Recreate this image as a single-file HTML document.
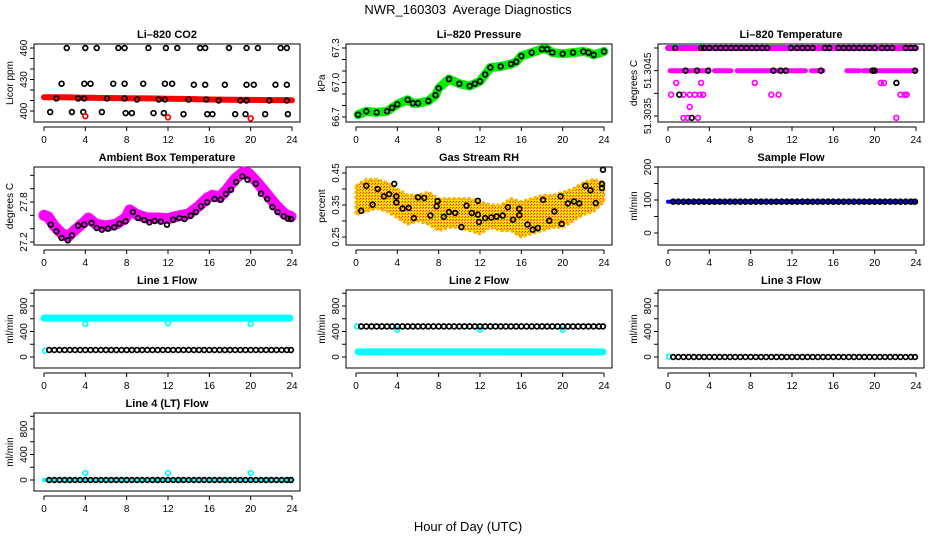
<!DOCTYPE html>
<html><head><meta charset="utf-8"><title>NWR_160303 Average Diagnostics</title>
<style>
html,body{margin:0;padding:0;background:#fff;}
svg{display:block;font-family:"Liberation Sans",Arial,sans-serif;}
</style></head>
<body>
<svg id="chart" width="936" height="540" viewBox="0 0 936 540" xmlns="http://www.w3.org/2000/svg">
<defs>
<pattern id="rhdots" width="3" height="3" patternUnits="userSpaceOnUse">
<rect width="3" height="3" fill="#ffd000"/>
<rect x="0" y="0" width="1" height="1" fill="#ff2000"/>
<rect x="2" y="1" width="1" height="1" fill="#ff6000"/>
<rect x="1" y="2" width="1" height="1" fill="#ffff00"/>
</pattern>
</defs>
<text x="468" y="14" font-size="13" text-anchor="middle">NWR_160303&#160; Average Diagnostics</text>
<text x="468" y="531" font-size="13" text-anchor="middle">Hour of Day (UTC)</text>
</svg>
<script>
// ---------- data ----------
const xTicks = [0,4,8,12,16,20,24];
const halfHours = [0.5,1,1.5,2,2.5,3,3.5,4,4.5,5,5.5,6,6.5,7,7.5,8,8.5,9,9.5,10,10.5,11,11.5,12,12.5,13,13.5,14,14.5,15,15.5,16,16.5,17,17.5,18,18.5,19,19.5,20,20.5,21,21.5,22,22.5,23,23.5,23.9];

// CO2
const co2Hours = [2.2,4.0,5.1,7.2,7.8,10.1,11.8,12.9,15.1,15.6,17.9,19.6,20.7,22.9,23.5,
 1.7,3.9,4.5,6.7,7.8,9.6,11.7,12.4,14.5,15.6,17.5,19.6,20.3,22.4,23.5,
 1.2,3.3,3.9,6.1,7.8,9.0,11.1,11.7,14.0,15.7,16.9,19.0,19.6,21.8,23.5,
 0.6,2.7,3.8,5.6,7.9,8.5,10.6,11.6,13.5,15.8,16.3,18.5,19.5,21.4,23.6];
const co2Values = [460,460,460,460,460,460,460,460,460,460,460,460,460,460,460,
 426,426,426,426,426,426,426,426,425,425,425,425,425,425,425,
 412,412,412,412,412,411,411,411,411,411,410,410,410,410,410,
 399,399,399,399,398,398,398,398,397,397,397,397,397,397,397];
const co2BandHours = [0,2,4,6,8,10,12,14,16,18,20,22,24];
const co2Band = [413,413,412.6,412.4,412.2,412,411.6,411.4,411,410.8,410.6,410.4,410.2];
const co2RedHours = [4,12,20];
const co2RedValues = [395,394,393];

// Pressure
const presHours = [0.2,1,2,3,3.5,4,5,5.5,6,7,7.7,8,9,10,11,11.5,12,12.5,13,14,15,15.5,16,17,18,18.5,19,20,21,22,22.5,23,24];
const presValues = [66.72,66.75,66.74,66.75,66.78,66.81,66.85,66.82,66.82,66.84,66.89,66.95,67.03,66.99,66.97,66.99,67.01,67.07,67.13,67.14,67.16,67.18,67.23,67.26,67.29,67.29,67.26,67.25,67.26,67.27,67.26,67.24,67.27];

// Li-820 temperature
const tempTopStart = [0];
const tempTopEnd = [24];
const tempTopValue = 51.3050;
const tempMidStart = [0.2,4.5,6.7,13.9,17.3,18.9];
const tempMidEnd = [3.9,6.1,13.3,15.0,18.5,24];
const tempMidValue = 51.3045;
const tempScatterHours = [0.8,3.2,8.4,20.6,20.9,0.3,1.5,2.1,2.6,3.1,3.4,10.0,10.7,22.5,22.9,23.1,2.1,1.5,1.9,2.9,22.1];
const tempScatterValues = [51.30423,51.30423,51.30423,51.30423,51.30423,51.30397,51.30397,51.30397,51.30397,51.30397,51.30397,51.30397,51.30397,51.30397,51.30397,51.30397,51.30370,51.30346,51.30346,51.30346,51.30346];
const tempBlackHours = [0.7,3.2,3.5,4.0,4.6,5.1,5.6,6.1,6.6,7.1,7.6,8.1,8.6,9.1,9.6,11.9,12.5,13.0,13.5,14.0,15.2,15.6,16.5,17.0,17.5,18.0,18.5,19.0,19.5,20.0,20.7,21.2,21.7,23.0,23.5,23.9,
 1.7,2.8,3.9,10.2,10.9,11.4,14.8,19.8,20.0,23.9, 22.1,1.1,2.3];
const tempBlackValues = [51.3050,51.3050,51.3050,51.3050,51.3050,51.3050,51.3050,51.3050,51.3050,51.3050,51.3050,51.3050,51.3050,51.3050,51.3050,51.3050,51.3050,51.3050,51.3050,51.3050,51.3050,51.3050,51.3050,51.3050,51.3050,51.3050,51.3050,51.3050,51.3050,51.3050,51.3050,51.3050,51.3050,51.3050,51.3050,51.3050,
 51.3045,51.3045,51.3045,51.3045,51.3045,51.3045,51.3045,51.3045,51.3045,51.3045, 51.30423,51.30397,51.30346];

// Ambient box temperature
const ambHours = [0.65,1.2,1.7,2.3,2.7,3.3,3.9,4.6,5.1,5.6,6.2,6.8,7.3,7.9,8.6,9.1,9.7,10.2,10.7,11.3,11.9,12.5,13.1,13.6,14.2,14.7,15.2,15.8,16.5,17.1,17.6,18.1,18.6,19.2,19.7,20.5,21.0,21.6,22.1,22.6,23.2,23.6,23.9];
const ambValues = [27.46,27.36,27.26,27.225,27.30,27.445,27.46,27.485,27.41,27.385,27.40,27.42,27.475,27.51,27.65,27.56,27.53,27.495,27.515,27.505,27.46,27.535,27.56,27.545,27.595,27.65,27.735,27.795,27.845,27.835,27.92,27.985,28.10,28.185,28.135,28.075,27.925,27.845,27.725,27.65,27.585,27.55,27.545];
const ambBandHours = [0,0.4,1.0,1.7,2.3,3.0,3.9,4.3,5.0,6.0,7.0,7.9,8.3,9.0,10.0,11.0,12.0,13.0,14.0,15.0,15.8,16.3,17.0,17.6,18.5,19.3,19.8,20.5,21.5,22.5,23.3,23.9];
const ambBand = [27.60,27.58,27.44,27.33,27.28,27.38,27.50,27.56,27.47,27.44,27.47,27.56,27.68,27.61,27.56,27.56,27.55,27.59,27.62,27.74,27.86,27.90,27.87,27.97,28.15,28.25,28.23,28.12,27.93,27.74,27.62,27.58];

// Gas stream RH
const rhEnvHours = [0,1,2,3,4,5,6,7,8,9,10,11,12,13,14,15,16,17,18,19,20,21,22,23,24];
const rhUpper = [0.41,0.43,0.43,0.42,0.40,0.38,0.38,0.39,0.37,0.37,0.37,0.37,0.36,0.35,0.35,0.37,0.36,0.37,0.38,0.38,0.39,0.40,0.42,0.43,0.42];
const rhLower = [0.32,0.33,0.34,0.33,0.31,0.29,0.30,0.29,0.27,0.28,0.28,0.27,0.26,0.28,0.27,0.27,0.25,0.26,0.27,0.28,0.28,0.30,0.32,0.33,0.36];
const rhHours = [0.5,1.0,1.6,2.1,2.7,3.2,3.7,3.9,3.9,4.5,5.1,5.6,6.0,6.6,7.2,7.8,7.9,8.5,9.0,9.6,10.2,10.7,11.2,11.8,11.8,11.9,12.5,13.1,13.6,14.2,14.7,15.2,15.8,15.8,16.6,17.1,17.6,18.1,18.7,19.2,19.8,19.9,20.5,21.1,21.6,22.2,22.7,23.2,23.8,23.9,23.8];
const rhValues = [0.332,0.410,0.351,0.400,0.377,0.384,0.416,0.377,0.358,0.339,0.341,0.309,0.374,0.372,0.317,0.346,0.362,0.313,0.328,0.325,0.281,0.348,0.325,0.320,0.363,0.297,0.309,0.311,0.314,0.317,0.343,0.304,0.318,0.338,0.289,0.273,0.278,0.366,0.301,0.330,0.377,0.291,0.355,0.361,0.355,0.410,0.396,0.356,0.416,0.460,0.403];

// Sample flow
const sampleBandHours = [0,24];
const sampleBand = [95,95];
const sampleBlack = [95,95,95,95,95,95,95,95,95,95,95,95,95,95,95,95,95,95,95,95,95,95,95,95,95,95,95,95,95,95,95,95,95,95,95,95,95,95,95,95,95,95,95,95,95,95,95,95];

// Line flows
const line1BandHours = [0,23.8];
const line1Band = [610,610];
const line1DipHours = [0.1,4,12,20];
const line1DipValues = [100,520,530,520];
const line1Black = [110,110,110,110,110,110,110,110,110,110,110,110,110,110,110,110,110,110,110,110,110,110,110,110,110,110,110,110,110,110,110,110,110,110,110,110,110,110,110,110,110,110,110,110,110,110,110,110];
const line2BandHours = [0.2,23.9];
const line2Band = [80,80];
const line2DipHours = [0.1,4,12,20];
const line2DipValues = [480,430,430,430];
const line2Black = [480,480,480,480,480,480,480,480,480,480,480,480,480,480,480,480,480,480,480,480,480,480,480,480,480,480,480,480,480,480,480,480,480,480,480,480,480,480,480,480,480,480,480,480,480,480,480,480];
const line3DipHours = [0.1];
const line3DipValues = [5];
const line3Black = [0,0,0,0,0,0,0,0,0,0,0,0,0,0,0,0,0,0,0,0,0,0,0,0,0,0,0,0,0,0,0,0,0,0,0,0,0,0,0,0,0,0,0,0,0,0,0,0];
const line4BandHours = [0,23.9];
const line4Band = [0,0];
const line4DipHours = [4,12,20];
const line4DipValues = [110,110,110];
const line4Black = [0,0,0,0,0,0,0,0,0,0,0,0,0,0,0,0,0,0,0,0,0,0,0,0,0,0,0,0,0,0,0,0,0,0,0,0,0,0,0,0,0,0,0,0,0,0,0,0];

// ---------- drawing ----------
const NS = 'http://www.w3.org/2000/svg';
const svg = document.getElementById('chart');
function el(tag, attrs, parent) {
  const e = document.createElementNS(NS, tag);
  for (const k in attrs) e.setAttribute(k, attrs[k]);
  (parent || svg).appendChild(e);
  return e;
}

function panel(c, r, name, title, yTitle, ref, yTicks, yLabels, fmt) {
  const g = el('g', {});
  
  
  const bx = 34 + 312 * c, by = 44 + 123 * r, bw = 266, bh = 78;
  const x = t => 44 + 312 * c + t * 248 / 24;
  const y = v => by + ref[1] + (v - ref[0]) * (ref[3] - ref[1]) / (ref[2] - ref[0]);
  const box = el('rect', {x: bx, y: by, width: bw, height: bh, fill: 'none', stroke: '#000', 'stroke-width': 1}, g);
  
  
  const t = el('text', {x: bx + bw / 2, y: by - 6, 'font-size': 11, 'font-weight': 'bold', 'text-anchor': 'middle'}, g);
  t.textContent = title;
  
  
  const ay = by + bh + 5;
  const xa = el('g', {}, g);
  
  
  el('line', {x1: x(xTicks[0]), x2: x(xTicks[xTicks.length - 1]), y1: ay, y2: ay, stroke: '#000'}, xa);
  xTicks.forEach(v => {
    el('line', {x1: x(v), x2: x(v), y1: ay, y2: ay + 4, stroke: '#000'}, xa);
    const l = el('text', {x: x(v), y: ay + 16, 'font-size': 10, 'text-anchor': 'middle'}, xa);
    l.textContent = v;
    
    
  });
  const ya = el('g', {}, g);
  
  
  el('line', {x1: bx, x2: bx, y1: y(yTicks[0]), y2: y(yTicks[yTicks.length - 1]), stroke: '#000'}, ya);
  yTicks.forEach(v => el('line', {x1: bx - 4, x2: bx, y1: y(v), y2: y(v), stroke: '#000'}, ya));
  yLabels.forEach(v => {
    const yy = y(v);
    const l = el('text', {x: bx - 7, y: yy, 'font-size': 10, 'text-anchor': 'middle', transform: 'rotate(-90 ' + (bx - 7) + ' ' + yy + ')'}, ya);
    l.textContent = fmt(v);
    
    
  });
  const yt = el('text', {x: bx - 21, y: by + bh / 2, 'font-size': 10, 'text-anchor': 'middle', transform: 'rotate(-90 ' + (bx - 21) + ' ' + (by + bh / 2) + ')'}, g);
  yt.textContent = yTitle;
  
  
  const marks = el('g', {}, g);
  
  
  return {g: marks, x, y};
}

function band(p, hours, vals, color, w, name) {
  const pts = hours.map((h, i) => p.x(h).toFixed(1) + ',' + p.y(vals[i]).toFixed(1)).join(' ');
  const l = el('polyline', {points: pts, fill: 'none', stroke: color, 'stroke-width': w, 'stroke-linejoin': 'round', 'stroke-linecap': 'round'}, p.g);
  
  
}
function circles(p, hours, vals, color, name) {
  hours.forEach((h, i) => {
    const c = el('circle', {cx: p.x(h), cy: p.y(vals[i]), r: 2.4, fill: 'none', stroke: color, 'stroke-width': 1.7}, p.g);
    
    
  });
}
const f0 = v => String(v);

const p1 = panel(0, 0, 'co2', 'Li\u2013820 CO2', 'Licor ppm', [400, 67, 460, 4], [400,410,420,430,440,450,460], [400,430,460], f0);
band(p1, co2BandHours, co2Band, '#ff0000', 6, 'co2-band');
circles(p1, co2Hours, co2Values, '#000', 'co2-point');
circles(p1, co2RedHours, co2RedValues, '#ff0000', 'co2-red-point');

const p2 = panel(1, 0, 'pressure', 'Li\u2013820 Pressure', 'kPa', [66.7, 73, 67.3, 4], [66.7,66.8,66.9,67.0,67.1,67.2,67.3], [66.7,67.0,67.3], v => v.toFixed(1));
band(p2, presHours, presValues, '#00ee00', 9, 'pressure-band');
circles(p2, presHours, presValues, '#000', 'pressure-point');

const p3 = panel(2, 0, 'li820-temp', 'Li\u2013820 Temperature', 'degrees C', [51.3035, 72, 51.3050, 4], [51.3035,51.3040,51.3045,51.3050], [51.3035,51.3045], v => v.toFixed(4));
tempTopStart.forEach((s, i) => band(p3, [s, tempTopEnd[i]], [tempTopValue, tempTopValue], '#ff00ff', 6, 'temp-top-band'));
tempMidStart.forEach((s, i) => band(p3, [s, tempMidEnd[i]], [tempMidValue, tempMidValue], '#ff00ff', 5, 'temp-mid-band'));
circles(p3, tempScatterHours, tempScatterValues, '#ff00ff', 'temp-magenta-point');
circles(p3, tempBlackHours, tempBlackValues, '#000', 'temp-point');

const p4 = panel(0, 1, 'ambient-temp', 'Ambient Box Temperature', 'degrees C', [27.2, 75, 27.8, 35], [27.2,27.4,27.6,27.8,28.0,28.2], [27.2,27.8], v => v.toFixed(1));
band(p4, ambBandHours, ambBand, '#ff00ff', 11, 'ambient-band');
circles(p4, ambHours, ambValues, '#000', 'ambient-point');

const p5 = panel(1, 1, 'rh', 'Gas Stream RH', 'percent', [0.25, 70, 0.45, 6], [0.25,0.30,0.35,0.40,0.45], [0.25,0.35,0.45], v => v.toFixed(2));
const up = rhEnvHours.map((h, i) => p5.x(h).toFixed(1) + ',' + p5.y(rhUpper[i]).toFixed(1));
const lo = rhEnvHours.map((h, i) => p5.x(h).toFixed(1) + ',' + p5.y(rhLower[i]).toFixed(1)).reverse();
const cloud = el('polygon', {points: up.concat(lo).join(' '), fill: 'url(#rhdots)', stroke: '#ffb000', 'stroke-width': 3, 'stroke-linejoin': 'round', 'stroke-dasharray': '3 2'}, p5.g);


circles(p5, rhHours, rhValues, '#000', 'rh-point');

const p6 = panel(2, 1, 'sample-flow', 'Sample Flow', 'ml/min', [0, 66, 200, 0], [0,50,100,150,200], [0,100,200], f0);
band(p6, sampleBandHours, sampleBand, '#0000ff', 4, 'sample-band');
circles(p6, halfHours, sampleBlack, '#000', 'sample-point');

const flowTicks = [0,200,400,600,800,1000];
const flowLabels = [0,400,800];
const p7 = panel(0, 2, 'line1-flow', 'Line 1 Flow', 'ml/min', [0, 67, 800, 16], flowTicks, flowLabels, f0);
band(p7, line1BandHours, line1Band, '#00ffff', 7, 'line1-band');
circles(p7, line1DipHours, line1DipValues, '#00ffff', 'line1-cyan-point');
circles(p7, halfHours, line1Black, '#000', 'line1-point');

const p8 = panel(1, 2, 'line2-flow', 'Line 2 Flow', 'ml/min', [0, 67, 800, 16], flowTicks, flowLabels, f0);
band(p8, line2BandHours, line2Band, '#00ffff', 7, 'line2-band');
circles(p8, line2DipHours, line2DipValues, '#00ffff', 'line2-cyan-point');
circles(p8, halfHours, line2Black, '#000', 'line2-point');

const p9 = panel(2, 2, 'line3-flow', 'Line 3 Flow', 'ml/min', [0, 67, 800, 16], flowTicks, flowLabels, f0);
circles(p9, line3DipHours, line3DipValues, '#00ffff', 'line3-cyan-point');
circles(p9, halfHours, line3Black, '#000', 'line3-point');

const p10 = panel(0, 3, 'line4-flow', 'Line 4 (LT) Flow', 'ml/min', [0, 67, 800, 16], flowTicks, flowLabels, f0);
band(p10, line4BandHours, line4Band, '#00ffff', 4, 'line4-band');
circles(p10, line4DipHours, line4DipValues, '#00ffff', 'line4-cyan-point');
circles(p10, halfHours, line4Black, '#000', 'line4-point');
</script>
</body></html>
